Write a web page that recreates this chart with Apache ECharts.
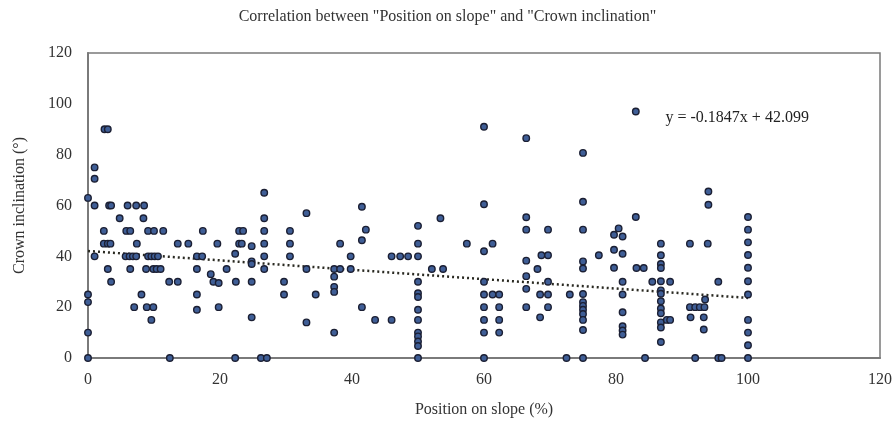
<!DOCTYPE html>
<html>
<head>
<meta charset="utf-8">
<script src="https://cdn.jsdelivr.net/npm/echarts@6/dist/echarts.min.js"></script>
<style>html,body{margin:0;padding:0;background:#fff}#c{width:895px;height:426px}</style>
</head>
<body>
<div id="c"></div>
<script>
// Position on slope (%) and Crown inclination (°)
const positionOnSlope = [
  0,0,0,0,0, 1,1,1,1, 2.5,3, 3.2,3.5, 2.4, 2.4,3,3.4, 3,3.5, 4.8,
  5.8,6.4, 6,7.3,8.5, 5.7,6.3,6.8,7.3, 6.4, 7, 7.4, 8.4, 8.1,
  9.1,10,11.4, 9.1,9.6,10.1,10.6, 8.8,9.9,10.4,11, 8.9,9.9, 9.6, 12.4,
  13.6,15.2, 12.3,13.6, 16.5,17.3, 17.4, 16.5, 16.5, 16.5,
  18.6,19,19.8, 19.6, 19.8,
  21, 22.3, 22.4, 22.9,23.5, 22.9,23.3, 24.8,24.8,24.8,24.8,24.8, 22.3,
  26.7,26.7,26.7,26.7,26.7,26.7, 26.2,27.1,
  30.6,30.6,30.6, 29.7,29.7, 33.1,33.1,33.1, 34.5,
  37.3,37.3,37.3,37.3,37.3, 38.2,39.8, 38.2,39.8,
  41.5,42.1,41.5,41.5, 43.5,46, 46,47.3,48.5,
  50,50,50,50,50,50,50,50,50,50,50,50,50,
  52.1,53.8, 53.4, 57.4,
  60,60,60,60,60,60,60,60,60, 61.3,61.3, 62.3,62.3,62.3,62.3,
  66.4,66.4,66.4,66.4,66.4,66.4,66.4, 68.1, 68.7,69.7, 68.5,69.7, 69.7,69.7,69.7, 68.5,
  72.5, 73,
  75,75,75,75,75,75,75,75,75,75,75,75,75, 77.4,
  79.7,79.7,79.7, 80.4, 81,81,81,81,81,81,81,81,
  83,83,83.1,84.2, 85.5, 84.4,
  86.8,86.8,86.8,86.8,86.8,86.8,86.8,86.8,86.8,86.8,86.8,86.8,86.8,
  87.7,88.2, 88.2,
  91.2,93.9, 94,94, 95.5,
  91.2,92,92.7,93.4, 93.5, 91.3,93.3, 93.3,
  92,95.5,96,
  100,100,100,100,100,100,100,100,100,100,100
];
const crownInclination = [
  63,25,22,10,0, 75,70.5,60,40, 90,90, 60,60, 50, 45,45,45, 35,30, 55,
  50,50, 60,60,60, 40,40,40,40, 35, 20, 45, 55, 25,
  50,50,50, 40,40,40,40, 35,35,35,35, 20,20, 15, 0,
  45,45, 30,30, 40,40, 50, 35, 25, 19,
  33,30,29.5, 45, 20,
  35, 41, 30, 50,50, 45,45, 44,38,37,30,16, 0,
  65,55,50,45,40,35, 0,0,
  50,45,40, 30,25, 57,35,14, 25,
  35,32,28,26,10, 35,35, 45,40,
  59.5,50.5,46.3,20, 15,15, 40,40,40,
  52,45,40,30,25.5,24,19,15,10,8.5,6.5,4.7,0,
  35,35, 55, 45,
  91,60.5,42,30,25,20,15,10,0, 45,25, 25,20,15,10,
  86.5,55.4,50.5,38.3,32.2,27.2,20, 35, 40.4,40.4, 25,25, 50.5,30,20, 16,
  0, 25,
  80.7,61.5,50.5,38,35.2,25.2,22,20.5,19,17.3,15,11,0, 40.4,
  48.5,42.6,35.5, 51, 47.8,41,30,25,18,12.5,10.8,9.2,
  97,55.5,35.4,35.4, 30, 0,
  45,40.4,37,35.4,30.2,26.6,25.3,22.3,19.5,17.6,14,12,6.3,
  15,30, 15,
  45,45, 65.5,60.3, 30,
  20,20,20,20, 23, 16,16, 11.2,
  0,0,0,
  55.5,50.5,45.5,40.5,35.5,30.2,25,15,10,5,0
];
const trendX = [0, 100];
const trendSlope = -0.1847, trendIntercept = 42.099;
const xTicks = [0, 20, 40, 60, 80, 100, 120];
const yTicks = [0, 20, 40, 60, 80, 100, 120];

const pts = positionOnSlope.map((x, i) => [x, crownInclination[i]]);
const trendPts = trendX.map(x => [x, trendIntercept + trendSlope * x]);

const serif = '"Liberation Serif", "Times New Roman", serif';
const chart = echarts.init(document.getElementById('c'));
chart.setOption({
  animation: false,
  backgroundColor: '#fff',
  title: {
    text: 'Correlation between "Position on slope" and "Crown inclination"',
    left: 'center', top: 4,
    textStyle: { fontFamily: serif, fontSize: 16, fontWeight: 'normal', color: '#333' }
  },
  grid: { left: 88, right: 15, top: 53, bottom: 68, show: true, borderColor: '#7a7a7a', borderWidth: 1.5 },
  xAxis: {
    type: 'value', min: 0, max: 120, interval: 20,
    name: 'Position on slope (%)', nameLocation: 'middle', nameGap: 44,
    nameTextStyle: { fontFamily: serif, fontSize: 16, color: '#333' },
    axisLine: { show: true, onZero: false, lineStyle: { color: '#7a7a7a', width: 2 } },
    axisTick: { show: false },
    splitLine: { show: false },
    axisLabel: { fontFamily: serif, fontSize: 16, color: '#333', margin: 14,
      formatter: v => xTicks.includes(v) ? String(v) : '' }
  },
  yAxis: {
    type: 'value', min: 0, max: 120, interval: 20,
    name: 'Crown inclination (°)', nameLocation: 'middle', nameGap: 60,
    nameTextStyle: { fontFamily: serif, fontSize: 16, color: '#333' },
    axisLine: { show: true, onZero: false, lineStyle: { color: '#7a7a7a', width: 2 } },
    axisTick: { show: false },
    splitLine: { show: false },
    axisLabel: { fontFamily: serif, fontSize: 16, color: '#333', margin: 16,
      formatter: v => yTicks.includes(v) ? String(v) : '' }
  },
  series: [
    {
      type: 'line', data: trendPts, showSymbol: false, symbol: 'none', z: 3,
      lineStyle: { color: '#2a2a22', width: 2.5, type: [2, 3] },
      markPoint: {
        symbol: 'circle', symbolSize: 0,
        data: [{ coord: [87.5, 94.5], value: 'y = -0.1847x + 42.099' }],
        label: { show: true, position: 'right', distance: 0, fontFamily: serif, fontSize: 16, color: '#222',
          formatter: 'y = -0.1847x + 42.099' }
      }
    },
    {
      type: 'scatter', data: pts, symbol: 'circle', symbolSize: 6.5, z: 4,
      itemStyle: { color: '#3f5e96', borderColor: '#1b1f33', borderWidth: 1.4, opacity: 1 }
    }
  ]
});
</script>
</body>
</html>
